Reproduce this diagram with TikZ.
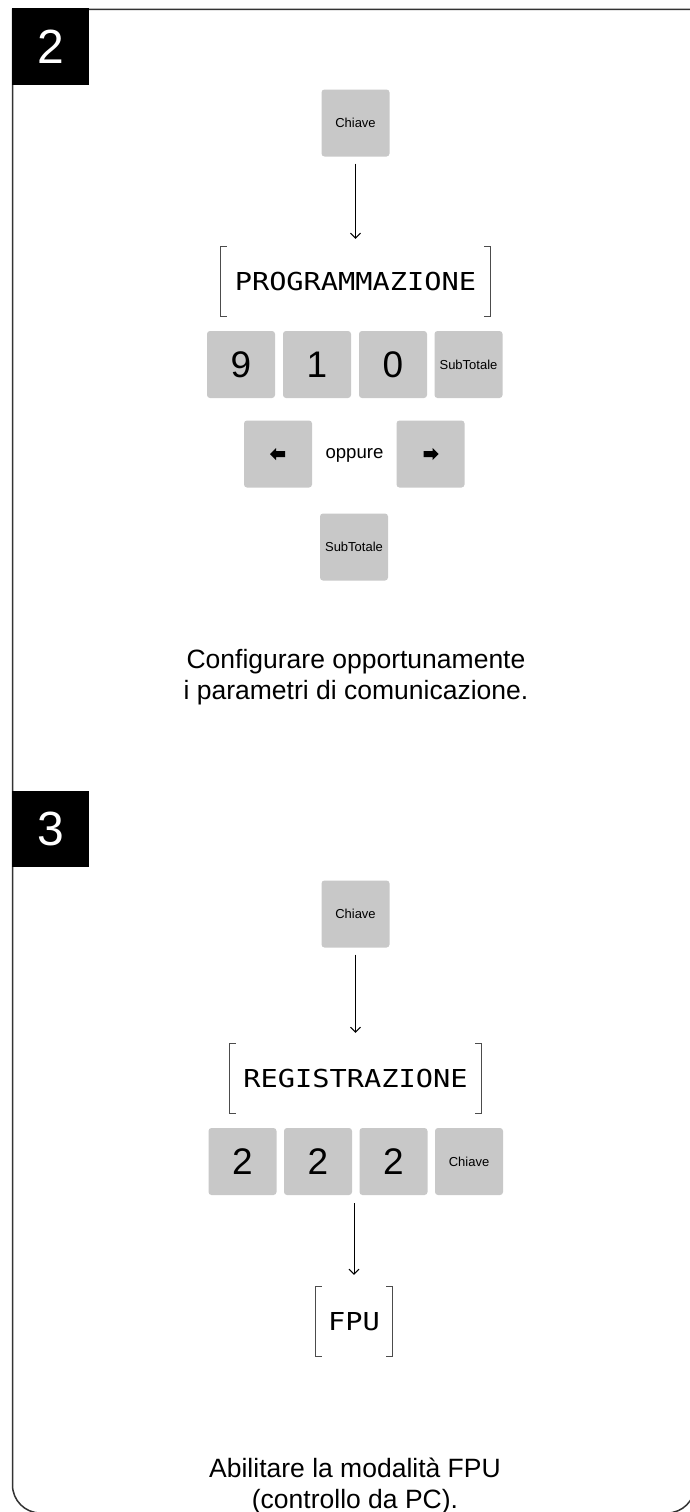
\documentclass[tikz,border=0pt]{standalone}
\usepackage{fontspec}
\setmainfont{Liberation Sans}
\newfontfamily\lcdfont{DejaVu Sans Mono}
\usetikzlibrary{arrows.meta}
\definecolor{keygray}{HTML}{C8C8C8}
\definecolor{framegray}{HTML}{333333}
\newcommand\lcdbrackets[1]{%
  \draw[bracket] ([xshift=6pt]#1.north west) -| (#1.south west) -- ++(6pt,0);
  \draw[bracket] ([xshift=-6pt]#1.north east) -| (#1.south east) -- ++(-6pt,0);}
\newcommand\lcdtext[1]{\scalebox{1.16}[1]{#1}}
\begin{document}
\begin{tikzpicture}[x=1pt,y=-1pt,
  key/.style={fill=keygray, rounded corners=3pt, minimum width=68pt, minimum height=67pt, inner sep=0pt, font=\fontsize{13}{15}\selectfont},
  bigkey/.style={key, font=\fontsize{37}{40}\selectfont},
  lcd/.style={minimum height=69pt, inner sep=0pt, font=\lcdfont\fontsize{24.7}{26}\selectfont},
  flow/.style={line width=1pt, -{Straight Barb[length=5pt,width=10pt]}},
  bracket/.style={line width=1pt, draw=black!70},
  stepnum/.style={fill=black, text=white, minimum width=77pt, minimum height=76pt, inner sep=0pt, font=\fontsize{48}{50}\selectfont},
  caption/.style={align=center, font=\fontsize{26.5}{31}\selectfont},
  icon/.style={fill=black}]
\useasboundingbox (0,0) rectangle (689,1512);
\fill[white] (0,0) rectangle (689,1512);
% frame
\draw[framegray, line width=1.5pt] (700,9.5) -- (12.5,9.5) -- (12.5,1300)
  [rounded corners=28pt] -- (12.5,1513) -- (695,1513) -- (695,1300);
% ---------- step 2
\node[stepnum] (s2) at (50.5,46.5) {2};
\node[key] (c1) at (355.5,123) {Chiave};
\node[lcd, minimum width=269pt] (d1) at (355.5,281.5) {\lcdtext{PROGRAMMAZIONE}};
\lcdbrackets{d1}
\draw[flow] ([yshift=-7pt]c1.south) -- ([yshift=8pt]d1.north);
\node[bigkey] (k9) at (241,364.5) {9};
\node[bigkey] (k1) at (317,364.5) {1};
\node[bigkey] (k0) at (393,364.5) {0};
\node[key] (st1) at (468.5,364.5) {SubTotale};
\node[key] (left) at (278,454) {};
\node[font=\fontsize{18.6}{20}\selectfont] (opp) at (354.5,455) {oppure};
\node[key] (right) at (430.5,454) {};
\fill[icon] (left.center) ++(-8,0) -- ++(6,-6) -- ++(0,3) -- ++(9,0) -- ++(0,6) -- ++(-9,0) -- ++(0,3) -- cycle;
\fill[icon] (right.center) ++(8,0) -- ++(-6,-6) -- ++(0,3) -- ++(-9,0) -- ++(0,6) -- ++(9,0) -- ++(0,3) -- cycle;
\node[key] (st2) at (354,547) {SubTotale};
\node[caption] (t2) at (356,677) {Configurare opportunamente\\i parametri di comunicazione.};
% ---------- step 3
\node[stepnum] (s3) at (50.5,828.5) {3};
\node[key] (c2) at (355.5,914) {Chiave};
\node[lcd, minimum width=251pt] (d2) at (355.5,1078.5) {\lcdtext{REGISTRAZIONE}};
\lcdbrackets{d2}
\draw[flow] ([yshift=-7pt]c2.south) -- ([yshift=11pt]d2.north);
\node[bigkey] (k2a) at (242.5,1161.5) {2};
\node[bigkey] (k2b) at (318,1161.5) {2};
\node[bigkey] (k2c) at (393.5,1161.5) {2};
\node[key] (c3) at (469,1161.5) {Chiave};
\node[lcd, minimum width=76pt] (d3) at (354,1321.5) {\lcdtext{FPU}};
\lcdbrackets{d3}
\draw[flow] ([yshift=-8pt]k2c.south -| d3.north) -- ([yshift=12pt]d3.north);
\node[caption] (t3) at (355,1486) {Abilitare la modalità FPU\\(controllo da PC).};
\end{tikzpicture}
\end{document}
